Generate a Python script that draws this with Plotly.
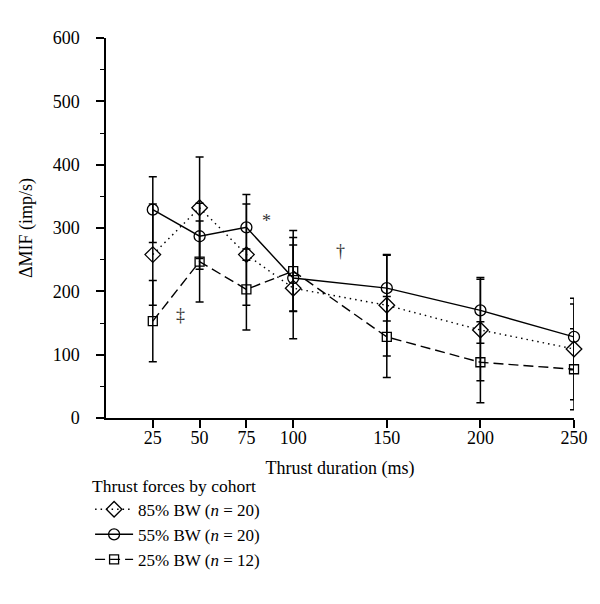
import plotly.graph_objects as go

durations = [25, 50, 75, 100, 150, 200, 250]
bw85 = [258, 332, 258, 205, 178, 139, 109]
bw55 = [329, 287, 301, 221, 205, 170, 128]
bw25 = [153, 247, 203, 232, 128, 88, 77]
err85 = [80, 80, 80, 80, 80, 80, 80]
err55 = [52, 52, 52, 52, 52, 52, 52]
err25 = [64, 64, 64, 64, 64, 64, 64]
names = ["85% BW (<i>n</i> = 20)", "55% BW (<i>n</i> = 20)", "25% BW (<i>n</i> = 12)"]
marks = [("*", 86, 311), ("†", 125, 264), ("‡", 40, 162)]

FONT = "Liberation Serif"
fig = go.Figure()
series = [
    (bw85, err85, names[0], "1.5px,4px", "diamond-open", 12),
    (bw55, err55, names[1], "solid", "circle-open", 11),
    (bw25, err25, names[2], "10px,5px", "square-open", 9),
]
for ys, es, nm, dash, sym, sz in series:
    fig.add_trace(go.Scatter(
        x=durations, y=ys, name=nm, mode="lines+markers",
        line=dict(color="black", width=1.4, dash=dash),
        marker=dict(symbol=sym, size=sz, color="black", line=dict(width=1.3, color="black")),
        error_y=dict(type="data", array=es, visible=True, color="black", thickness=1.5, width=4),
        cliponaxis=False,
    ))

for t, x, y in marks:
    fig.add_annotation(x=x, y=y, text=t, showarrow=False,
                       font=dict(family=FONT, size=18, color="#333333"))

fig.update_layout(
    width=600, height=604,
    margin=dict(l=98, r=34, t=30, b=194),
    plot_bgcolor="white", paper_bgcolor="white",
    font=dict(family=FONT, size=18, color="black"),
    showlegend=True,
    legend=dict(
        x=-0.034, y=-0.134, xanchor="left", yanchor="top",
        title=dict(text="Thrust forces by cohort", font=dict(family=FONT, size=17.5)),
        font=dict(family=FONT, size=17), tracegroupgap=0, itemwidth=38,
        bgcolor="rgba(0,0,0,0)",
    ),
    xaxis=dict(
        range=[0, 250], tickvals=durations, ticktext=[str(d) for d in durations],
        showline=True, linecolor="black", linewidth=1.5,
        ticks="outside", ticklen=8, tickwidth=1.5, tickcolor="black",
        showgrid=False, zeroline=False, ticklabelstandoff=-5,
        title=dict(text="Thrust duration (ms)", font=dict(family=FONT, size=18), standoff=14),
        tickfont=dict(family=FONT, size=18),
    ),
    yaxis=dict(
        range=[0, 600], dtick=100,
        showline=True, linecolor="black", linewidth=1.5,
        ticks="outside", ticklen=8, tickwidth=1.5, tickcolor="black",
        minor=dict(ticks="outside", dtick=50, ticklen=4, tickwidth=1.2, tickcolor="black"),
        showgrid=False, zeroline=False, ticklabelstandoff=13,
        title=dict(text="ΔMIF (imp/s)", font=dict(family=FONT, size=18), standoff=15),
        tickfont=dict(family=FONT, size=18),
    ),
)

fig.write_html("out.html")
